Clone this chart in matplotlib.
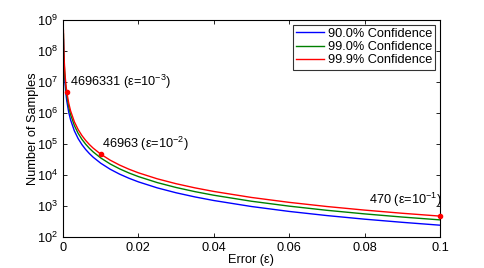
import matplotlib
matplotlib.use('Agg')
import matplotlib.pyplot as plt
from matplotlib.ticker import LogLocator, NullLocator

plt.rcParams['font.family'] = ['Liberation Sans', 'DejaVu Sans']
plt.rcParams['mathtext.fontset'] = 'custom'
plt.rcParams['mathtext.rm'] = 'Liberation Sans'
plt.rcParams['mathtext.it'] = 'Liberation Sans:italic'
plt.rcParams['mathtext.default'] = 'regular'

# ── Data ─────────────────────────────────────────────────────────────────────
eps = [0.0001, 0.0002, 0.0003, 0.0005, 0.00075, 0.001, 0.0015, 0.002, 0.003,
       0.004, 0.005, 0.006, 0.007, 0.008, 0.01, 0.0125, 0.015, 0.0175, 0.02,
       0.025, 0.03, 0.035, 0.04, 0.05, 0.06, 0.07, 0.08, 0.09, 0.1]

n_900 = [2.39e8, 5.99e7, 2.66e7, 9.58e6, 4.26e6, 2.394e6, 1.064e6, 5.99e5, 2.66e5,
         1.496e5, 9.58e4, 6.65e4, 4.89e4, 3.74e4, 23940, 15320, 10640, 7820, 5985,
         3830, 2660, 1954, 1496, 958, 665, 489, 374, 296, 239]

n_990 = [3.55e8, 8.86e7, 3.94e7, 1.42e7, 6.30e6, 3.545e6, 1.576e6, 8.86e5, 3.94e5,
         2.216e5, 1.418e5, 9.85e4, 7.23e4, 5.54e4, 35450, 22690, 15760, 11580, 8860,
         5672, 3939, 2894, 2216, 1418, 985, 723, 554, 438, 355]

n_999 = [4.70e8, 1.17e8, 5.22e7, 1.88e7, 8.35e6, 4696331, 2.087e6, 1.174e6, 5.22e5,
         2.935e5, 1.878e5, 1.305e5, 9.58e4, 7.34e4, 46963, 30060, 20870, 15330, 11740,
         7514, 5218, 3834, 2935, 1878, 1305, 958, 734, 580, 470]

labels = ['90.0% Confidence', '99.0% Confidence', '99.9% Confidence']

# highlighted points on the 99.9% curve
mark_eps = [0.001, 0.01, 0.1]
mark_n = [4696331, 46963, 470]
mark_txt = ['4696331 (ε=10$^{-3}$)', '46963 (ε=10$^{-2}$)', '470 (ε=10$^{-1}$)']

FS = 9.2

# ── Plot ─────────────────────────────────────────────────────────────────────
fig = plt.figure(figsize=(4.85, 2.68), dpi=100)
ax = fig.add_axes([0.130, 0.116, 0.777, 0.809])

ax.plot(eps, n_900, color='#0000ff', lw=1.0, label=labels[0])
ax.plot(eps, n_990, color='#008000', lw=1.0, label=labels[1])
ax.plot(eps, n_999, color='#ff0000', lw=1.0, label=labels[2])

ax.plot(mark_eps, mark_n, 'o', color='#ff0000', ms=3, clip_on=False, zorder=5)
ax.annotate(mark_txt[0], (mark_eps[0], mark_n[0]), xytext=(2, 1),
            textcoords='offset points', fontsize=FS, ha='left', va='bottom')
ax.annotate(mark_txt[1], (mark_eps[1], mark_n[1]), xytext=(1, 1),
            textcoords='offset points', fontsize=FS, ha='left', va='bottom')
ax.annotate(mark_txt[2], (mark_eps[2], mark_n[2]), xytext=(1, 5),
            textcoords='offset points', fontsize=FS, ha='right', va='bottom')

ax.set_yscale('log')
ax.set_xlim(0, 0.1)
ax.set_ylim(1e2, 1e9)
ax.set_xticks([0, 0.02, 0.04, 0.06, 0.08, 0.1])
ax.set_xticklabels(['0', '0.02', '0.04', '0.06', '0.08', '0.1'])
ax.yaxis.set_major_locator(LogLocator(base=10, numticks=10))
ax.yaxis.set_minor_locator(NullLocator())
ax.tick_params(direction='in', top=True, right=True, labelsize=FS, length=3, width=0.6)
for s in ax.spines.values():
    s.set_linewidth(0.8)

ax.set_xlabel('Error (ε)', fontsize=FS, labelpad=0)
ax.set_ylabel('Number of Samples', fontsize=FS, labelpad=-1)

leg = ax.legend(loc='upper right', fontsize=FS, frameon=True, fancybox=False,
                edgecolor='black', handlelength=2.2, handletextpad=0.3,
                borderpad=0.25, labelspacing=0.1, borderaxespad=0.35)
leg.get_frame().set_linewidth(0.8)

fig.savefig('out.png', dpi=100)
